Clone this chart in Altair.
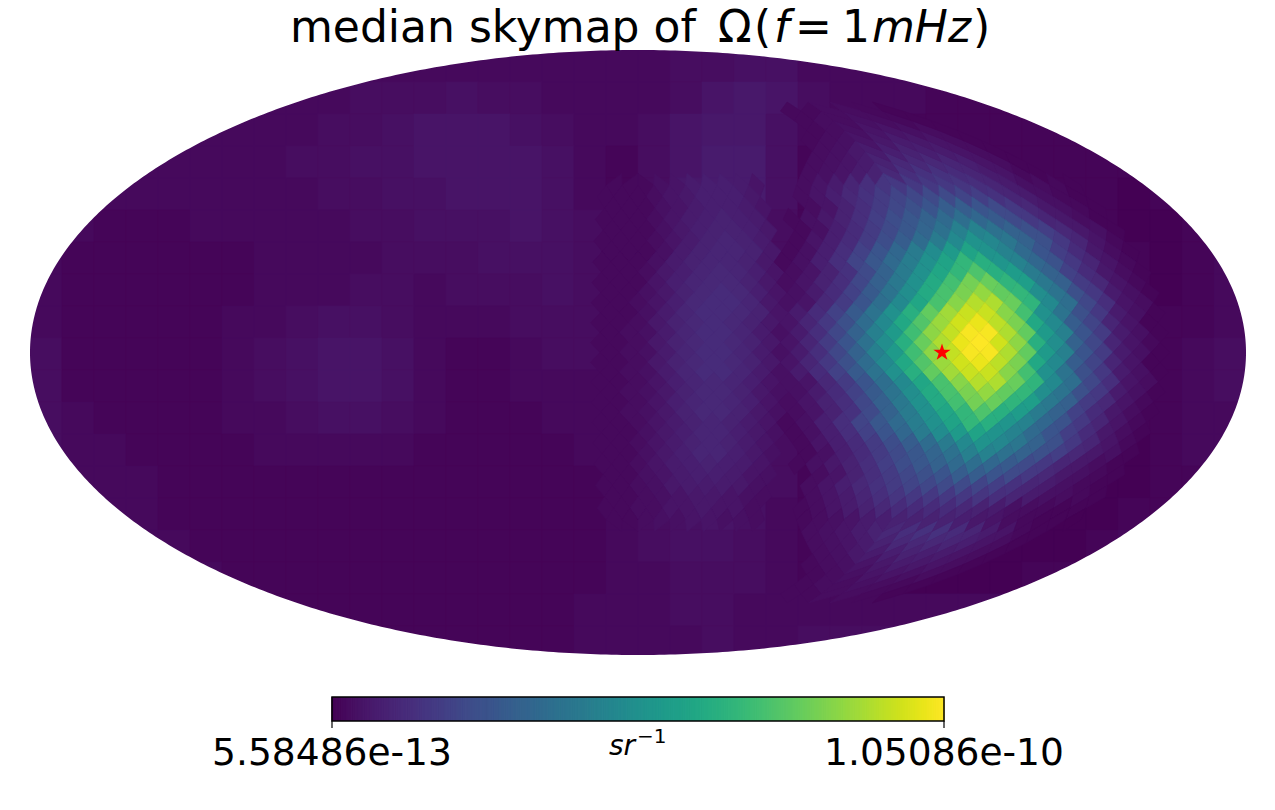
import math
import altair as alt

# Colour-scale position (0-100 %) of the map.
# Coarse sky background: 19 rows (north to south) of 38 columns.
BACKGROUND = [
 [2,2,2,2,2,2,2,2,2,2,2,2,2,2,2,2,2,2,2,2,3,3,4,4,2,2,2,2,2,1,1,1,1,1,1,1,1,1],
 [2,2,2,2,2,2,2,2,2,2,3,3,3,4,3,3,2,2,2,2,3,5,6,5,3,2,2,2,1,1,1,1,1,1,1,1,1,1],
 [2,2,2,2,2,2,2,2,2,3,3,4,5,5,5,4,3,2,2,3,5,6,6,4,2,1,1,1,1,1,1,1,1,1,1,1,1,1],
 [2,2,2,2,2,2,2,2,3,3,4,4,5,5,5,5,4,2,1,3,5,7,7,4,1,1,1,1,1,1,1,1,1,1,1,1,1,1],
 [2,2,2,2,2,2,2,2,2,3,3,4,4,5,5,5,4,2,1,3,6,7,7,4,1,1,1,1,1,1,1,1,1,1,0,1,1,1],
 [2,2,1,1,1,2,2,2,2,2,3,3,4,4,4,5,4,3,1,3,6,8,7,3,1,1,1,1,1,1,1,1,1,1,0,0,1,1],
 [2,1,1,1,1,1,1,2,2,2,2,3,3,3,4,4,4,3,2,3,7,9,7,3,1,1,1,1,1,1,1,1,1,1,1,0,1,2],
 [2,1,1,1,1,1,1,2,2,2,3,3,2,3,3,3,4,3,2,3,7,9,7,3,1,1,1,1,1,1,1,1,1,1,1,0,1,2],
 [2,1,1,1,1,1,2,2,3,4,4,3,2,2,2,3,3,3,2,3,7,9,7,3,2,2,2,2,2,2,2,2,2,2,1,1,1,2],
 [3,1,1,1,1,1,2,3,4,5,5,4,2,1,1,2,3,3,2,3,7,9,7,3,3,3,2,2,2,2,2,2,2,2,1,1,2,3],
 [3,1,1,1,1,1,2,3,4,5,5,4,2,1,1,2,2,2,2,3,7,8,7,3,3,3,2,2,2,2,2,2,2,2,1,1,2,3],
 [3,2,1,1,1,1,2,2,3,4,4,3,2,1,1,1,2,2,2,3,6,8,6,3,2,2,2,2,2,2,2,2,2,1,1,1,2,2],
 [3,2,2,1,1,1,1,2,2,2,2,2,1,1,1,1,1,2,2,3,6,7,6,3,1,1,1,1,1,1,1,1,1,1,0,1,2,2],
 [2,2,2,2,1,1,1,1,1,1,1,1,1,1,1,1,1,1,2,3,5,6,5,3,1,1,1,1,1,1,1,1,1,0,0,1,1,1],
 [2,2,2,2,1,1,1,1,1,1,1,1,1,1,1,1,1,1,2,3,4,5,4,2,1,1,1,1,1,1,1,0,0,0,1,1,1,1],
 [2,2,2,2,2,1,1,1,1,1,1,1,1,1,1,1,1,1,2,3,4,4,3,2,1,0,0,0,0,0,0,0,0,1,2,2,2,2],
 [2,2,2,2,2,2,1,1,1,1,1,1,1,1,1,1,1,1,2,2,3,3,3,2,1,1,0,0,0,0,0,1,1,2,2,2,2,2],
 [2,2,2,2,2,2,2,1,1,1,1,1,1,1,1,1,1,2,2,2,3,3,2,2,2,2,2,2,2,2,2,2,2,2,2,2,2,2],
 [2,2,2,2,2,2,2,2,1,1,1,1,1,1,1,1,1,2,2,2,2,3,2,2,3,3,3,3,3,2,2,2,2,2,2,2,2,2],
]

# Central ridge: equatorial rings from ring +16 down to ring -16.
RIDGE_ROWS = [
 [2,2,2,4,5,7,8,8,7,5],
 [2,2,2,3,5,6,8,8,8,6],
 [2,2,2,4,5,7,8,8,7,5],
 [2,2,2,3,5,7,8,9,8,7],
 [2,2,2,4,6,8,9,9,8,6],
 [2,2,2,3,5,7,9,10,9,7],
 [2,2,2,4,7,9,10,10,9,6],
 [2,2,2,4,7,9,10,10,9,6],
 [2,2,3,6,8,10,11,10,8,5],
 [2,2,2,5,8,10,11,11,9,6],
 [2,2,4,6,9,11,12,11,8,5],
 [2,2,3,5,8,11,12,12,10,6],
 [2,2,4,7,10,12,12,11,9,5],
 [2,2,3,6,9,11,12,11,9,6],
 [2,3,4,7,10,12,12,10,7,4],
 [2,2,3,6,9,11,12,11,9,6],
 [2,3,4,7,10,12,12,10,7,4],
 [2,2,3,6,9,11,12,11,9,6],
 [2,3,4,7,10,12,12,10,7,4],
 [2,2,3,5,8,10,11,10,8,5],
 [2,3,4,6,9,11,11,9,6,4],
 [2,2,3,5,8,10,11,10,8,5],
 [2,3,4,6,9,11,11,9,6,4],
 [2,2,3,5,7,9,10,9,7,5],
 [2,2,4,6,8,10,10,8,6,4],
 [2,2,3,5,7,9,10,9,7,5],
 [2,2,4,6,8,10,10,8,6,4],
 [2,2,3,5,7,8,9,8,7,5],
 [2,2,4,5,7,8,8,7,5,4],
 [2,2,3,4,6,7,7,7,6,4],
 [2,2,3,4,5,6,6,5,4,3],
 [2,2,3,3,5,5,6,5,5,3],
 [2,2,3,4,4,5,5,4,4,3],
]

# Hot spot, equatorial rings: one row per ring distance from the peak ring.
HOT_ROWS = [
 [5,10,17,26,37,49,63,77,88,97,100,93,83,63,49,31,21,10,5,2],
 [7,13,21,31,43,54,69,83,91,99,99,88,76,54,43,26,17,7,4,1],
 [5,10,16,24,35,47,60,73,85,93,97,90,80,60,47,29,20,10,5,1],
 [7,12,19,28,38,50,63,76,86,92,92,82,70,50,38,24,16,7,4,1],
 [4,5,11,17,26,36,47,59,71,82,89,88,77,65,47,36,21,13,5,3],
 [4,7,12,19,28,38,49,61,71,80,84,76,66,49,38,24,16,7,4,1],
 [3,5,9,13,21,30,40,50,61,70,79,77,65,56,40,30,17,11,5,2],
 [3,5,9,14,22,31,41,50,59,66,72,63,55,41,31,19,12,6,3,1],
 [2,4,8,13,20,27,34,42,50,58,66,63,52,44,33,25,16,10,5,2],
 [2,4,8,13,19,26,33,41,48,54,58,51,44,34,26,18,12,6,3,1],
 [None,2,5,8,12,17,23,29,35,41,47,51,46,39,31,24,16,10,5,2],
 [None,2,4,8,12,17,22,27,32,37,43,44,37,31,24,18,11,6,4,1],
 [None,2,4,6,9,13,18,23,27,31,34,36,33,28,22,16,10,6,3,1],
 [None,None,3,5,9,13,17,21,24,26,29,29,26,22,16,11,6,4,2,1],
 [None,None,3,5,8,11,14,17,20,21,22,22,20,18,14,10,7,4,2,1],
 [None,None,3,5,7,10,13,15,16,16,16,16,15,13,10,7,4,3,2,1],
 [None,None,2,3,5,7,9,11,12,12,12,12,11,9,7,4,3,2,1,1],
 [None,None,2,3,4,5,7,8,9,9,9,9,8,6,5,3,2,1,1,0],
]

# Hot spot tails in the polar caps: ring number, first pixel, values.
CAP_RINGS = [15, 14, 13, 12, 11, 10, 9]
CAP_STARTS = [10, 10, 10, 9, 9, 8, 7]
CAP_VALUES = [
 [3,4,5,7,9,11,13,14,14,12,10,7,5,2,1],
 [3,4,5,7,9,11,11,11,10,8,5,3,1],
 [3,4,6,7,8,9,8,7,5,3,1],
 [2,3,4,5,6,7,6,5,3,1],
 [2,3,4,5,5,4,3,1],
 [2,3,3,4,3,2,1],
 [2,2,3,3,2,1],
]

STAR_LON = [90.0]
STAR_LAT = [0.0]
TICK_LABELS = ["5.58486e-13", "1.05086e-10"]
COLORBAR_STEPS = list(range(0, 256))

# Page layout of the Mollweide disc, in chart pixels.
CX, CY, RX, RY = 630.0, 344.5, 608.0, 302.5
NSIDE = 16
DZ = 2 / (3 * NSIDE)


def moll(lon, z):
    """Mollweide plane position for longitude (radians) and z = sin(lat)."""
    t = math.asin(max(-1, min(1, z)))
    for _ in range(30):
        f = 2 * t + math.sin(2 * t) - math.pi * z
        d = 2 + 2 * math.cos(2 * t)
        if d < 1e-6:
            break
        t -= f / d
    return [CX + lon / math.pi * RX * math.cos(t), CY - RY * math.sin(t)]


def poly(ring, v):
    return {"type": "Feature", "properties": {"v": v},
            "geometry": {"type": "Polygon", "coordinates": [ring + [ring[0]]]}}


# Polar-cap vertices of the HEALPix lattice
def vertex(a, b, q, sign):
    n = a + b
    return moll((q + a / n) * math.pi / 2, sign * (1 - n * n / (3 * NSIDE * NSIDE)))


def diamond(k, ring, v):
    z = ring * DZ
    north = moll(k * math.pi / 64, z + DZ)
    south = moll(k * math.pi / 64, z - DZ)
    # The outermost equatorial rings touch the cap lattice on their polar side.
    if abs(ring) == NSIDE:
        j = (k - 1) // 2
        q, l = j // NSIDE, j % NSIDE
        if ring > 0:
            north = vertex(l, NSIDE - l - 1, q, 1)
        else:
            south = vertex(l, NSIDE - l - 1, q, -1)
    return poly([north, moll((k + 1) * math.pi / 64, z), south, moll((k - 1) * math.pi / 64, z)], v)


# Background cells
bg = []
CELL = 32.0
for r, row in enumerate(BACKGROUND):
    for c, v in enumerate(row):
        x0, y0 = 22 + c * CELL, 42 + r * CELL
        bg.append(poly([[x0, y0], [x0 + CELL, y0], [x0 + CELL, y0 + CELL], [x0, y0 + CELL]], v))

# Equatorial HEALPix diamonds: central ridge and hot spot
ridge, hot = [], []
for index, ring in enumerate(range(16, -17, -1)):
    first = -3 if ring % 2 == 0 else -4
    for n, v in enumerate(RIDGE_ROWS[index]):
        ridge.append(diamond(first + 2 * n, ring, v))
    first = 17 if ring % 2 == 0 else 16
    for n, v in enumerate(HOT_ROWS[abs(ring - 1)]):
        if v is not None:
            hot.append(diamond(first + 2 * n, ring, v))

# Polar-cap HEALPix pixels (both hemispheres)
cap = []
for i, j0, vals in zip(CAP_RINGS, CAP_STARTS, CAP_VALUES):
    for n, v in enumerate(vals):
        j = j0 + n
        q, l = j // i, j % i
        for sign in (1, -1):
            cap.append(poly([
                vertex(l, i - l - 1, q, sign), vertex(l + 1, i - l - 1, q, sign),
                vertex(l + 1, i - l, q, sign), vertex(l, i - l, q, sign)], v))

# White surround outside the ellipse
outer = [[-5, -5], [1264, -5], [1264, 799], [-5, 799], [-5, -5]]
inner = [[CX + RX * math.cos(a * math.pi / 360), CY + RY * math.sin(a * math.pi / 360)] for a in range(720, -1, -1)]
mask = [{"type": "Feature", "properties": {},
         "geometry": {"type": "Polygon", "coordinates": [outer, inner]}}]

# Colour bar
BX0, BX1, BY0, BY1 = 324.0, 936.0, 689.0, 713.0
cb = []
for s in COLORBAR_STEPS:
    w = (BX1 - BX0) / len(COLORBAR_STEPS)
    x0 = BX0 + s * w
    cb.append(poly([[x0, BY0 + 0.5], [x0 + w, BY0 + 0.5], [x0 + w, BY1 - 0.5], [x0, BY1 - 0.5]],
                   (s + 0.5) * 100 / len(COLORBAR_STEPS)))
frame = [poly([[BX0, BY0], [BX1, BY0], [BX1, BY1], [BX0, BY1]], 0)]
ticks = [{"type": "Feature", "properties": {},
          "geometry": {"type": "LineString", "coordinates": [[x, BY1], [x, BY1 + 7]]}} for x in (BX0, BX1)]

scale = alt.Scale(scheme="viridis", domain=[0, 100])


def cells(features, sw=0.7):
    return alt.Chart(alt.Data(values=features)).mark_geoshape(strokeWidth=sw).encode(
        color=alt.Color("properties.v:Q", scale=scale, legend=None),
        stroke=alt.Stroke("properties.v:Q", scale=scale, legend=None),
    )


def label(text, x, y, size, style="normal", align="left"):
    return alt.Chart(alt.Data(values=[{"t": text}])).mark_text(
        font="DejaVu Sans", fontSize=size, fontStyle=style, align=align,
        baseline="alphabetic", color="black",
    ).encode(x=alt.value(x), y=alt.value(y), text="t:N")


star_pos = moll(math.radians(STAR_LON[0]), math.sin(math.radians(STAR_LAT[0])))
star = alt.Chart(alt.Data(values=[{"sx": star_pos[0], "sy": star_pos[1]}])).mark_point(
    shape="M0,-1L.225,-.309L.951,-.309L.363,.118L.588,.809L0,.382L-.588,.809L-.363,.118L-.951,-.309L-.225,-.309Z",
    size=330, filled=True, color="red", opacity=1,
).encode(longitude="sx:Q", latitude="sy:Q")

TITLE_Y = 33.5
layers = [
    cells(bg), cells(ridge), cells(cap), cells(hot),
    alt.Chart(alt.Data(values=mask)).mark_geoshape(fill="white", strokeWidth=0),
    star,
    cells(cb, 1.2),
    alt.Chart(alt.Data(values=frame)).mark_geoshape(filled=False, stroke="black", strokeWidth=1.5),
    alt.Chart(alt.Data(values=ticks)).mark_geoshape(filled=False, stroke="black", strokeWidth=1.2),
    label("median skymap of ", 282, TITLE_Y, 44),
    label("\u03a9", 710, TITLE_Y, 44),
    label("(", 746, TITLE_Y, 44),
    label("f", 766, TITLE_Y, 44, "italic"),
    label("=", 787, TITLE_Y, 44),
    label("1", 834, TITLE_Y, 44),
    label("mHz", 864, TITLE_Y, 44, "italic"),
    label(")", 965, TITLE_Y, 44),
    label(TICK_LABELS[0], BX0, 757, 37.6, align="center"),
    label(TICK_LABELS[1], BX1, 757, 37.6, align="center"),
    label("sr", 601, 747, 28, "italic"),
    label("\u22121", 629, 735, 20),
]

chart = alt.layer(*layers).project(type="identity", scale=1, translate=[0, 0]).properties(
    width=1259, height=794, padding=0, autosize="none", background="white",
).configure_view(stroke=None)

chart.save("out.html", embed_options={"renderer": "svg", "actions": False})
